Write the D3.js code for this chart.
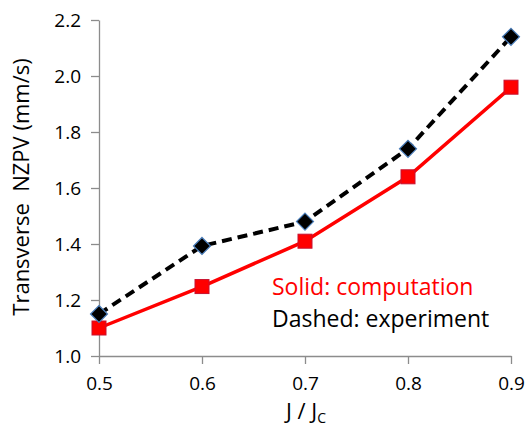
<!DOCTYPE html>
<html lang="en">
<head>
  <meta charset="UTF-8">
  <title>Transverse NZPV vs J/Jc</title>
  <script src="https://d3js.org/d3.v7.min.js"></script>
  <style>
    body { margin: 0; background: #fff; font-family: "Open Sans", Arial, sans-serif; }
    .axis path, .axis line { stroke: #8c8c8c; stroke-width: 1.3; }
    .axis text { font-size: 19px; fill: #000; font-family: "Open Sans", Arial, sans-serif; }
  </style>
</head>
<body>
  <script>
    // J / Jc values
    const ratios = [0.5, 0.6, 0.7, 0.8, 0.9];
    // computation (solid red)
    const computed = [1.10, 1.248, 1.41, 1.64, 1.96];
    // experiment (dashed black)
    const measured = [1.15, 1.393, 1.48, 1.74, 2.14];
    const yTicks = [1.0, 1.2, 1.4, 1.6, 1.8, 2.0, 2.2];

    const W = 525, H = 429;
    const margin = { top: 20, right: 14, bottom: 73, left: 99 };

    const svg = d3.select("body").append("svg")
      .attr("width", W).attr("height", H);

    const x = d3.scaleLinear().domain([0.5, 0.9]).range([margin.left, W - margin.right]);
    const y = d3.scaleLinear().domain([1.0, 2.2]).range([H - margin.bottom, margin.top]);

    // axes
    svg.append("g").attr("class", "axis")
      .attr("transform", `translate(0,${y(1.0)})`)
      .call(d3.axisBottom(x).tickValues(ratios).tickFormat(d3.format(".1f"))
        .tickSize(8).tickSizeOuter(0).tickPadding(13));

    svg.append("g").attr("class", "axis")
      .attr("transform", `translate(${x(0.5)},0)`)
      .call(d3.axisLeft(y).tickValues(yTicks).tickFormat(d3.format(".1f"))
        .tickSize(8).tickSizeOuter(0).tickPadding(10));

    const line = d3.line().x(d => x(d[0])).y(d => y(d[1]));
    const solid = ratios.map((r, i) => [r, computed[i]]);
    const dashed = ratios.map((r, i) => [r, measured[i]]);

    svg.append("path").datum(solid)
      .attr("d", line).attr("fill", "none")
      .attr("stroke", "#ff0000").attr("stroke-width", 3.5);

    svg.append("path").datum(dashed)
      .attr("d", line).attr("fill", "none")
      .attr("stroke", "#000").attr("stroke-width", 4)
      .attr("stroke-dasharray", "10,6");

    svg.selectAll(".sq").data(solid).enter().append("rect")
      .attr("x", d => x(d[0]) - 7).attr("y", d => y(d[1]) - 7)
      .attr("width", 14).attr("height", 14)
      .attr("fill", "#ff0000").attr("stroke", "#c8102e").attr("stroke-width", 1);

    svg.selectAll(".dm").data(dashed).enter().append("path")
      .attr("transform", d => `translate(${x(d[0])},${y(d[1])})`)
      .attr("d", "M0,-8.5L8.5,0L0,8.5L-8.5,0Z")
      .attr("fill", "#000").attr("stroke", "#4a7ebb").attr("stroke-width", 1.2);

    // legend notes
    svg.append("text").attr("x", 272).attr("y", 295)
      .style("font-size", "23px").attr("fill", "#ff0000")
      .text("Solid: computation");
    svg.append("text").attr("x", 272).attr("y", 327)
      .style("font-size", "23px").attr("fill", "#000")
      .text("Dashed: experiment");

    // axis titles
    const xt = svg.append("text").attr("x", 306).attr("y", 419)
      .attr("text-anchor", "middle").style("font-size", "22px");
    xt.append("tspan").text("J / J");
    xt.append("tspan").attr("dy", 4).style("font-size", "14px").text("C");

    svg.append("text")
      .attr("transform", "translate(29,187) rotate(-90)")
      .attr("text-anchor", "middle").style("font-size", "22px")
      .style("white-space", "pre")
      .text("Transverse  NZPV (mm/s)");
  </script>
</body>
</html>
